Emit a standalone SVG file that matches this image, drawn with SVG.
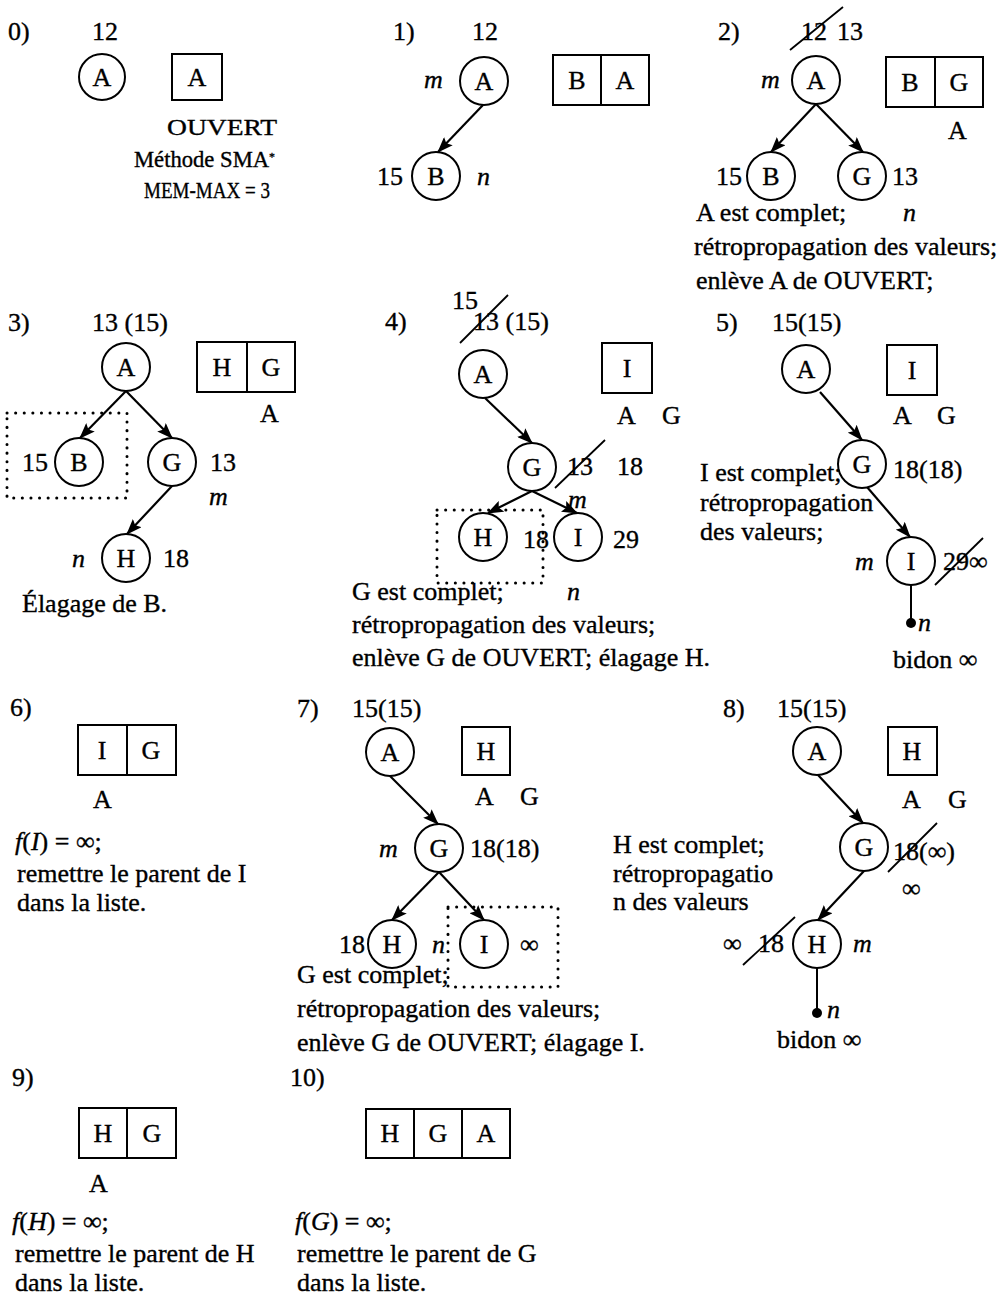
<svg xmlns="http://www.w3.org/2000/svg" width="998" height="1298" viewBox="0 0 998 1298">
<defs>
<style>
.t{font-family:"Liberation Serif","Times New Roman",serif;font-size:26px;fill:#000;stroke:#000;stroke-width:0.35}
.i{font-style:italic}
.c{text-anchor:middle}
.sm{font-size:23px}
.nd circle{fill:#fff;stroke:#000;stroke-width:2}
.bx rect{fill:#fff;stroke:#000;stroke-width:2}
.bx line{stroke:#000;stroke-width:2}
.e{stroke:#000;stroke-width:2.2;fill:none;marker-end:url(#ah)}
.ln{stroke:#000;stroke-width:2;fill:none}
.s{stroke:#000;stroke-width:1.8;fill:none}
.dr{fill:none;stroke:#000;stroke-width:3;stroke-dasharray:0.1 8.5;stroke-linecap:round}
</style>
<marker id="ah" viewBox="0 0 16 12" refX="15" refY="6" markerWidth="16" markerHeight="12" markerUnits="userSpaceOnUse" orient="auto">
<path d="M0,0 L16,6 L0,12 L3,6 z" fill="#000"/>
</marker>
</defs>
<rect width="998" height="1298" fill="#fff"/>

<!-- connectors -->
<g id="connectors">
<line class="e" x1="483" y1="105" x2="438" y2="152"/>
<line class="e" x1="816" y1="104" x2="771" y2="152"/>
<line class="e" x1="816" y1="104" x2="863" y2="152"/>
<line class="e" x1="126" y1="391" x2="80" y2="438"/>
<line class="e" x1="126" y1="391" x2="172" y2="438"/>
<line class="e" x1="172" y1="486" x2="127" y2="534"/>
<line class="e" x1="485" y1="398" x2="532" y2="443"/>
<line class="e" x1="532" y1="491" x2="488" y2="513"/>
<line class="e" x1="532" y1="491" x2="577" y2="513"/>
<line class="e" x1="820" y1="392" x2="862" y2="440"/>
<line class="e" x1="867" y1="487" x2="910" y2="537"/>
<line class="ln" x1="911" y1="585" x2="911" y2="623"/>
<line class="e" x1="390" y1="776" x2="438" y2="824"/>
<line class="e" x1="439" y1="872" x2="392" y2="920"/>
<line class="e" x1="439" y1="872" x2="484" y2="920"/>
<line class="e" x1="818" y1="775" x2="863" y2="823"/>
<line class="e" x1="864" y1="871" x2="818" y2="920"/>
<line class="ln" x1="817" y1="968" x2="817" y2="1013"/>
</g>

<!-- Panel 0 -->
<g id="p0">
<text class="t" x="8" y="40">0)</text>
<text class="t" x="92" y="40">12</text>
<g id="p0-A" class="nd"><circle cx="102" cy="77" r="23"/><text class="t c" x="102" y="86">A</text></g>
<g id="p0-open" class="bx"><rect x="172" y="54" width="50" height="46"/><text class="t c" x="197" y="86">A</text></g>
<text class="t sm" x="167" y="135" textLength="110" lengthAdjust="spacingAndGlyphs">OUVERT</text>
<text class="t sm" x="134" y="167" textLength="141" lengthAdjust="spacingAndGlyphs">Méthode SMA<tspan font-size="12" dy="-6">*</tspan></text>
<text class="t sm" x="144" y="198" textLength="126" lengthAdjust="spacingAndGlyphs">MEM-MAX = 3</text>
</g>

<!-- Panel 1 -->
<g id="p1">
<text class="t" x="393" y="40">1)</text>
<text class="t" x="472" y="40">12</text>
<text class="t i" x="424" y="88">m</text>
<g id="p1-A" class="nd"><circle cx="484" cy="81" r="24"/><text class="t c" x="484" y="90">A</text></g>
<g id="p1-B" class="nd"><circle cx="436" cy="176" r="24"/><text class="t c" x="436" y="185">B</text></g>
<text class="t" x="377" y="185">15</text>
<text class="t i" x="477" y="185">n</text>
<g id="p1-open" class="bx"><rect x="553" y="55" width="96" height="50"/><line x1="601" y1="55" x2="601" y2="105"/><text class="t c" x="577" y="89">B</text><text class="t c" x="625" y="89">A</text></g>
</g>

<!-- Panel 2 -->
<g id="p2">
<text class="t" x="718" y="40">2)</text>
<text class="t" x="801" y="40">12</text>
<line class="s" x1="790" y1="50" x2="843" y2="7"/>
<text class="t" x="837" y="40">13</text>
<text class="t i" x="761" y="88">m</text>
<g id="p2-A" class="nd"><circle cx="816" cy="80" r="24"/><text class="t c" x="816" y="89">A</text></g>
<g id="p2-B" class="nd"><circle cx="771" cy="176" r="24"/><text class="t c" x="771" y="185">B</text></g>
<g id="p2-G" class="nd"><circle cx="862" cy="176" r="24"/><text class="t c" x="862" y="185">G</text></g>
<text class="t" x="716" y="185">15</text>
<text class="t" x="892" y="185">13</text>
<g id="p2-open" class="bx"><rect x="886" y="57" width="97" height="50"/><line x1="935" y1="57" x2="935" y2="107"/><text class="t c" x="910" y="91">B</text><text class="t c" x="959" y="91">G</text></g>
<text class="t" x="948" y="139">A</text>
<text class="t" x="696" y="221">A est complet;</text>
<text class="t i" x="903" y="221">n</text>
<text class="t" x="694" y="255">rétropropagation des valeurs;</text>
<text class="t" x="696" y="289">enlève A de OUVERT;</text>
</g>

<!-- Panel 3 -->
<g id="p3">
<text class="t" x="8" y="331">3)</text>
<text class="t" x="92" y="331">13 (15)</text>
<g id="p3-A" class="nd"><circle cx="126" cy="367" r="24"/><text class="t c" x="126" y="376">A</text></g>
<g id="p3-B" class="nd"><circle cx="79" cy="462" r="24"/><text class="t c" x="79" y="471">B</text></g>
<g id="p3-G" class="nd"><circle cx="172" cy="462" r="24"/><text class="t c" x="172" y="471">G</text></g>
<g id="p3-H" class="nd"><circle cx="126" cy="558" r="24"/><text class="t c" x="126" y="567">H</text></g>
<rect class="dr" x="7" y="413" width="120" height="85"/>
<text class="t" x="22" y="471">15</text>
<text class="t" x="210" y="471">13</text>
<text class="t i" x="209" y="505">m</text>
<text class="t i" x="72" y="567">n</text>
<text class="t" x="163" y="567">18</text>
<g id="p3-open" class="bx"><rect x="197" y="342" width="98" height="50"/><line x1="247" y1="342" x2="247" y2="392"/><text class="t c" x="222" y="376">H</text><text class="t c" x="271" y="376">G</text></g>
<text class="t" x="260" y="422">A</text>
<text class="t" x="22" y="612">Élagage de B.</text>
</g>

<!-- Panel 4 -->
<g id="p4">
<text class="t" x="452" y="309">15</text>
<text class="t" x="385" y="330">4)</text>
<text class="t" x="473" y="330">13 (15)</text>
<line class="s" x1="460" y1="343" x2="508" y2="295"/>
<g id="p4-A" class="nd"><circle cx="483" cy="374" r="24"/><text class="t c" x="483" y="383">A</text></g>
<g id="p4-G" class="nd"><circle cx="532" cy="467" r="24"/><text class="t c" x="532" y="476">G</text></g>
<g id="p4-H" class="nd"><circle cx="483" cy="537" r="24"/><text class="t c" x="483" y="546">H</text></g>
<g id="p4-I" class="nd"><circle cx="578" cy="537" r="24"/><text class="t c" x="578" y="546">I</text></g>
<g id="p4-open" class="bx"><rect x="602" y="343" width="50" height="50"/><text class="t c" x="627" y="377">I</text></g>
<text class="t" x="617" y="424">A</text>
<text class="t" x="662" y="424">G</text>
<text class="t" x="567" y="475">13</text>
<line class="s" x1="555" y1="488" x2="605" y2="440"/>
<text class="t" x="617" y="475">18</text>
<text class="t i" x="568" y="508">m</text>
<rect class="dr" x="437" y="510" width="106" height="73"/>
<text class="t" x="523" y="548">18</text>
<text class="t" x="613" y="548">29</text>
<text class="t" x="352" y="600">G est complet;</text>
<text class="t i" x="567" y="600">n</text>
<text class="t" x="352" y="633">rétropropagation des valeurs;</text>
<text class="t" x="352" y="666">enlève G de OUVERT; élagage H.</text>
</g>

<!-- Panel 5 -->
<g id="p5">
<text class="t" x="716" y="331">5)</text>
<text class="t" x="772" y="331">15(15)</text>
<g id="p5-A" class="nd"><circle cx="806" cy="369" r="24"/><text class="t c" x="806" y="378">A</text></g>
<g id="p5-G" class="nd"><circle cx="862" cy="464" r="24"/><text class="t c" x="862" y="473">G</text></g>
<g id="p5-I" class="nd"><circle cx="911" cy="561" r="24"/><text class="t c" x="911" y="570">I</text></g>
<g id="p5-bidon"><circle cx="911" cy="623" r="5" fill="#000"/></g>
<g id="p5-open" class="bx"><rect x="887" y="345" width="50" height="50"/><text class="t c" x="912" y="379">I</text></g>
<text class="t" x="893" y="424">A</text>
<text class="t" x="937" y="424">G</text>
<text class="t" x="893" y="478">18(18)</text>
<text class="t" x="700" y="481">I est complet;</text>
<text class="t" x="700" y="511">rétropropagation</text>
<text class="t" x="700" y="540">des valeurs;</text>
<text class="t i" x="855" y="570">m</text>
<text class="t" x="943" y="570">29∞</text>
<line class="s" x1="935" y1="585" x2="983" y2="538"/>
<text class="t i" x="918" y="631">n</text>
<text class="t" x="893" y="668">bidon ∞</text>
</g>

<!-- Panel 6 -->
<g id="p6">
<text class="t" x="10" y="716">6)</text>
<g id="p6-open" class="bx"><rect x="78" y="725" width="98" height="50"/><line x1="127" y1="725" x2="127" y2="775"/><text class="t c" x="102" y="759">I</text><text class="t c" x="151" y="759">G</text></g>
<text class="t" x="93" y="808">A</text>
<text class="t" x="15" y="850"><tspan class="i">f</tspan>(<tspan class="i">I</tspan>) = ∞;</text>
<text class="t" x="17" y="882">remettre le parent de I</text>
<text class="t" x="17" y="911">dans la liste.</text>
</g>

<!-- Panel 7 -->
<g id="p7">
<text class="t" x="297" y="717">7)</text>
<text class="t" x="352" y="717">15(15)</text>
<g id="p7-A" class="nd"><circle cx="390" cy="752" r="24"/><text class="t c" x="390" y="761">A</text></g>
<g id="p7-G" class="nd"><circle cx="439" cy="848" r="24"/><text class="t c" x="439" y="857">G</text></g>
<g id="p7-H" class="nd"><circle cx="392" cy="944" r="24"/><text class="t c" x="392" y="953">H</text></g>
<g id="p7-I" class="nd"><circle cx="484" cy="944" r="24"/><text class="t c" x="484" y="953">I</text></g>
<g id="p7-open" class="bx"><rect x="462" y="727" width="48" height="48"/><text class="t c" x="486" y="760">H</text></g>
<text class="t" x="475" y="805">A</text>
<text class="t" x="520" y="805">G</text>
<text class="t i" x="379" y="857">m</text>
<text class="t" x="470" y="857">18(18)</text>
<text class="t" x="339" y="953">18</text>
<text class="t i" x="432" y="953">n</text>
<text class="t" x="520" y="953">∞</text>
<rect class="dr" x="448" y="907" width="110" height="80"/>
<text class="t" x="297" y="983">G est complet;</text>
<text class="t" x="297" y="1017">rétropropagation des valeurs;</text>
<text class="t" x="297" y="1051">enlève G de OUVERT; élagage I.</text>
</g>

<!-- Panel 8 -->
<g id="p8">
<text class="t" x="723" y="717">8)</text>
<text class="t" x="777" y="717">15(15)</text>
<g id="p8-A" class="nd"><circle cx="817" cy="751" r="24"/><text class="t c" x="817" y="760">A</text></g>
<g id="p8-G" class="nd"><circle cx="864" cy="847" r="24"/><text class="t c" x="864" y="856">G</text></g>
<g id="p8-H" class="nd"><circle cx="817" cy="944" r="24"/><text class="t c" x="817" y="953">H</text></g>
<g id="p8-bidon"><circle cx="817" cy="1013" r="5" fill="#000"/></g>
<g id="p8-open" class="bx"><rect x="888" y="727" width="49" height="48"/><text class="t c" x="912" y="760">H</text></g>
<text class="t" x="902" y="808">A</text>
<text class="t" x="948" y="808">G</text>
<text class="t" x="893" y="860">18(∞)</text>
<line class="s" x1="888" y1="872" x2="937" y2="823"/>
<text class="t" x="902" y="897">∞</text>
<text class="t" x="613" y="853">H est complet;</text>
<text class="t" x="613" y="882">rétropropagatio</text>
<text class="t" x="613" y="910">n des valeurs</text>
<text class="t" x="723" y="952">∞</text>
<text class="t" x="758" y="952">18</text>
<line class="s" x1="743" y1="965" x2="795" y2="917"/>
<text class="t i" x="853" y="952">m</text>
<text class="t i" x="827" y="1018">n</text>
<text class="t" x="777" y="1048">bidon ∞</text>
</g>

<!-- Panel 9 -->
<g id="p9">
<text class="t" x="12" y="1086">9)</text>
<g id="p9-open" class="bx"><rect x="79" y="1108" width="97" height="50"/><line x1="127" y1="1108" x2="127" y2="1158"/><text class="t c" x="103" y="1142">H</text><text class="t c" x="152" y="1142">G</text></g>
<text class="t" x="89" y="1192">A</text>
<text class="t" x="12" y="1230"><tspan class="i">f</tspan>(<tspan class="i">H</tspan>) = ∞;</text>
<text class="t" x="15" y="1262">remettre le parent de H</text>
<text class="t" x="15" y="1291">dans la liste.</text>
</g>

<!-- Panel 10 -->
<g id="p10">
<text class="t" x="290" y="1086">10)</text>
<g id="p10-open" class="bx"><rect x="366" y="1109" width="144" height="49"/><line x1="414" y1="1109" x2="414" y2="1158"/><line x1="462" y1="1109" x2="462" y2="1158"/><text class="t c" x="390" y="1142">H</text><text class="t c" x="438" y="1142">G</text><text class="t c" x="486" y="1142">A</text></g>
<text class="t" x="295" y="1230"><tspan class="i">f</tspan>(<tspan class="i">G</tspan>) = ∞;</text>
<text class="t" x="297" y="1262">remettre le parent de G</text>
<text class="t" x="297" y="1291">dans la liste.</text>
</g>
</svg>
